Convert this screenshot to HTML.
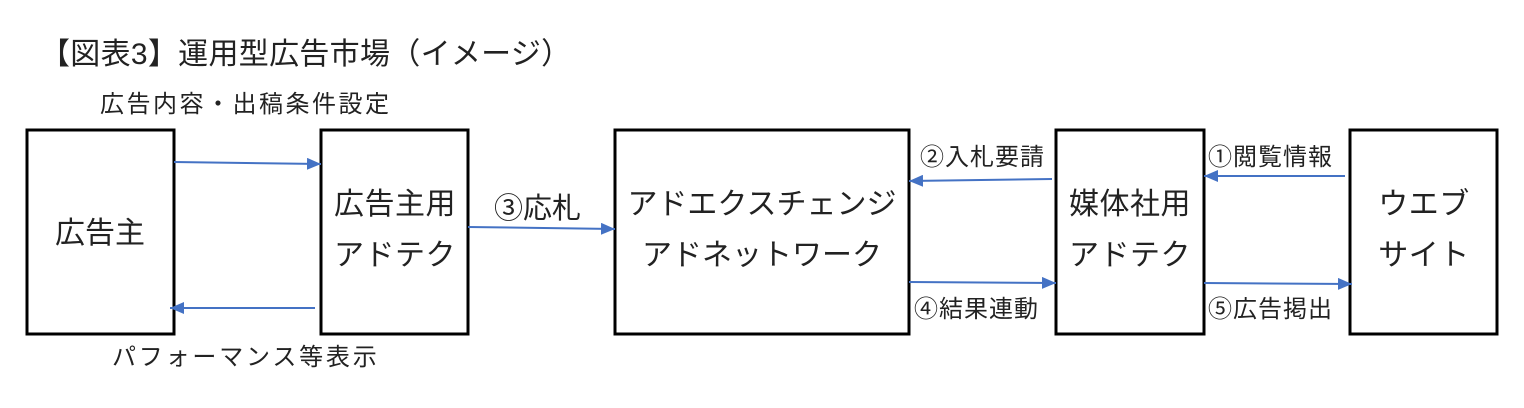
<!DOCTYPE html>
<html><head><meta charset="utf-8"><style>
html,body{margin:0;padding:0;background:#fff;}
svg{display:block;}
text{font-family:"Liberation Sans","Noto Sans CJK JP",sans-serif;fill:#222;}
</style></head><body>
<svg width="1524" height="408" viewBox="0 0 1524 408" xmlns="http://www.w3.org/2000/svg">
<defs>
<marker id="h" viewBox="0 0 14 12" markerWidth="14" markerHeight="12" refX="14" refY="6" orient="auto" markerUnits="userSpaceOnUse"><path d="M0,0 L14,6 L0,12z" fill="#4472C4"/></marker></defs>
<text x="40" y="64" font-size="30" letter-spacing="0.3">【図表3】運用型広告市場（イメージ）</text>
<text x="100" y="112" font-size="24" letter-spacing="2.5">広告内容・出稿条件設定</text>
<text x="112" y="365" font-size="24" letter-spacing="2.8">パフォーマンス等表示</text>
<g fill="none" stroke="#000" stroke-width="3">
<rect x="27" y="130" width="147" height="204"/>
<rect x="321" y="130" width="147" height="204"/>
<rect x="615" y="130" width="294" height="204"/>
<rect x="1056" y="130" width="148" height="204"/>
<rect x="1350" y="130" width="147" height="204"/>
</g>
<g stroke="#4472C4" stroke-width="2" marker-end="url(#h)">
<line x1="174" y1="162" x2="321" y2="164"/>
<line x1="315" y1="308" x2="170" y2="308"/>
<line x1="468" y1="227" x2="615" y2="229"/>
<line x1="1052" y1="179" x2="909" y2="181"/>
<line x1="909" y1="282" x2="1056" y2="283"/>
<line x1="1345" y1="176" x2="1204" y2="176"/>
<line x1="1204" y1="283" x2="1352" y2="284"/>
</g>
<g font-size="30" text-anchor="middle">
<text x="100" y="243">広告主</text>
<text x="395" y="214" letter-spacing="0.5">広告主用</text>
<text x="395" y="265" letter-spacing="0.5">アドテク</text>
<text x="762" y="214">アドエクスチェンジ</text>
<text x="762" y="265">アドネットワーク</text>
<text x="1130" y="214" letter-spacing="0.5">媒体社用</text>
<text x="1130" y="265" letter-spacing="0.5">アドテク</text>
<text x="1424" y="214" letter-spacing="0.5">ウエブ</text>
<text x="1424" y="265" letter-spacing="0.5">サイト</text>
</g>
<text x="494" y="218" font-size="29">③応札</text>
<g font-size="24" letter-spacing="1">
<text x="920" y="165">②入札要請</text>
<text x="914" y="317">④結果連動</text>
<text x="1208" y="165">①閲覧情報</text>
<text x="1208" y="317">⑤広告掲出</text>
</g>
</svg>
</body></html>
